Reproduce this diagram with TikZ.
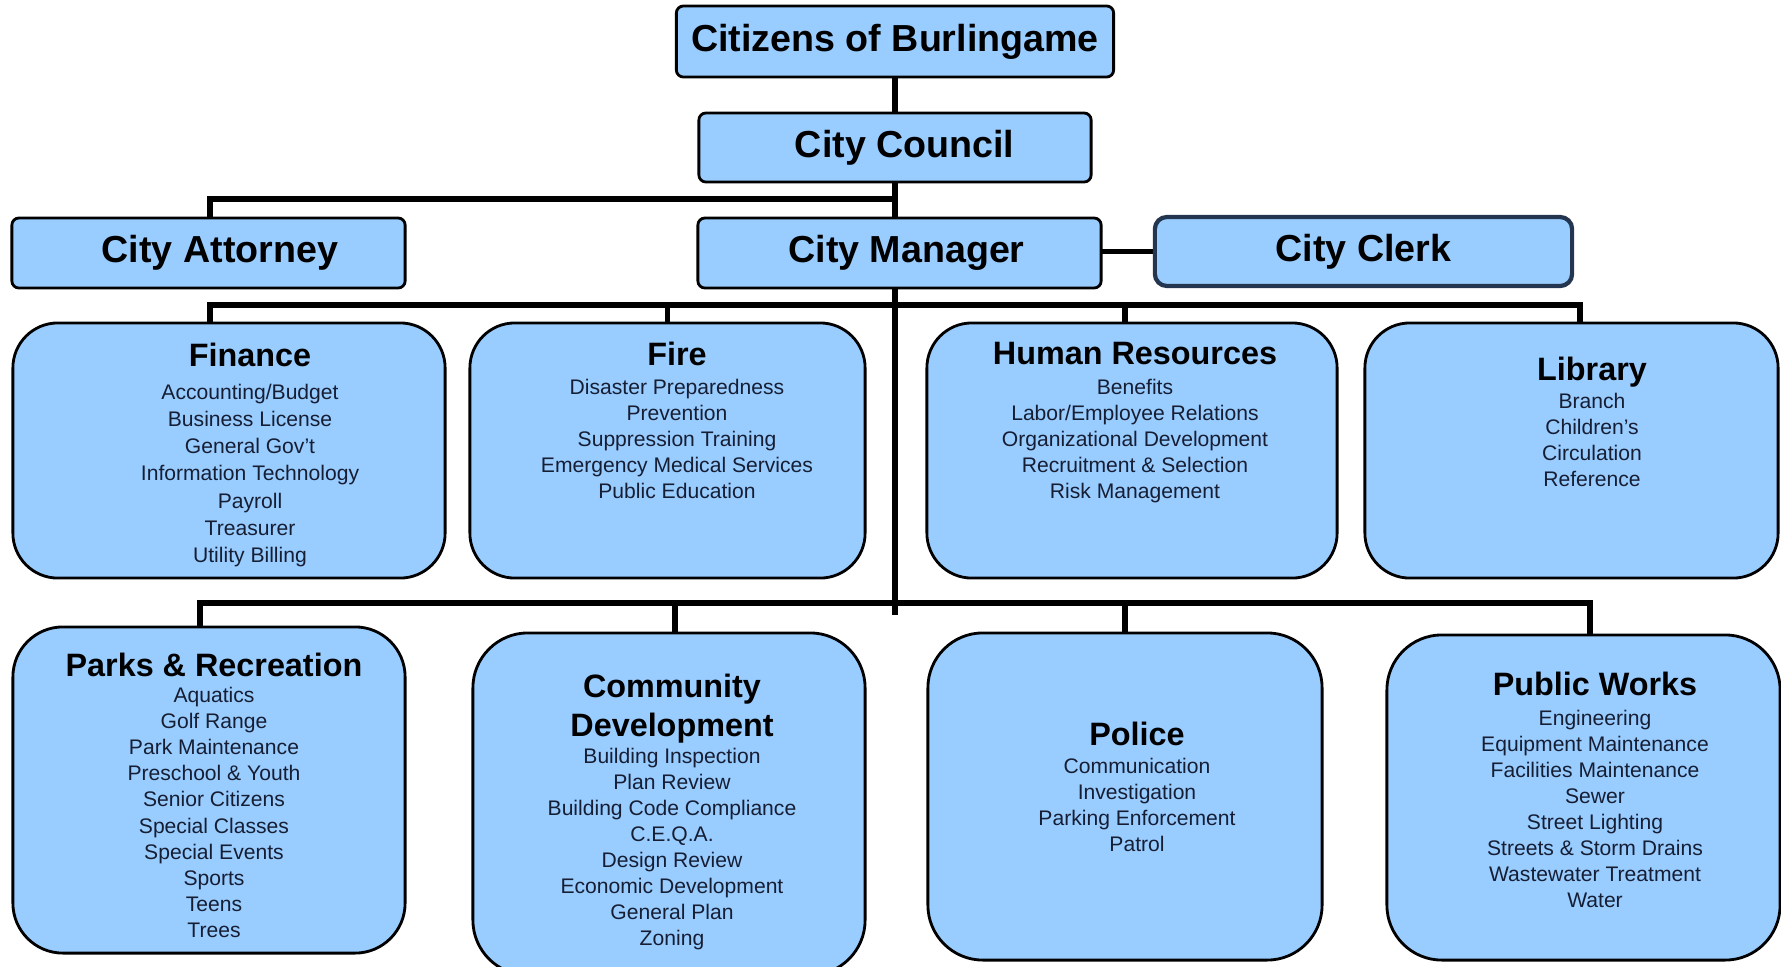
\documentclass[tikz,border=0pt]{standalone}
\usepackage{fontspec}
\setmainfont{Liberation Sans}
\usepackage{tikz}
\usetikzlibrary{positioning,backgrounds}

\definecolor{boxblue}{RGB}{153,204,255}
\definecolor{clerkline}{RGB}{36,54,79}
\definecolor{itemtext}{RGB}{22,30,52}

\newcommand{\depthead}[1]{{\color{black}\fontsize{9.2}{11}\selectfont\bfseries #1}}

\tikzset{
  topbox/.style={draw=black, line width=0.8pt, fill=boxblue, rounded corners=0.07cm,
    inner sep=0pt, font=\fontsize{10.7}{12.8}\selectfont\bfseries},
  deptbox/.style={draw=black, line width=0.8pt, fill=boxblue, rounded corners=0.45cm,
    inner sep=0pt},
  depttext/.style={anchor=north, align=center, inner sep=0pt, text=itemtext,
    font=\fontsize{6}{7.4}\selectfont},
  link/.style={line width=1.7pt, line cap=rect}
}

\begin{document}
\begin{tikzpicture}[x=0.01cm, y=-0.01cm]

    \useasboundingbox (0,0) rectangle (1781,966);

    \coordinate (trunkend) at (895,612);
    \coordinate (attyturn) at (210,199);
    \coordinate (upL) at (210,305);
    \coordinate (upR) at (1580,305);
    \coordinate (loL) at (200,603);
    \coordinate (loR) at (1590,603);

    % top row
    \node[topbox, minimum width=4.37cm, minimum height=0.71cm] (citizens) at (895,41.5) {Citizens of Burlingame};
    \node[topbox, minimum width=3.92cm, minimum height=0.69cm] (council) at (895,147.5) {\hspace*{5.5pt}City Council};
    \node[topbox, minimum width=3.93cm, minimum height=0.70cm] (attorney) at (208.5,253) {\hspace*{6.5pt}City Attorney};
    \node[topbox, minimum width=4.03cm, minimum height=0.70cm] (manager) at (899.5,253) {\hspace*{4pt}City Manager};
    \node[topbox, draw=clerkline, line width=1.2pt, rounded corners=0.12cm,
          minimum width=4.17cm, minimum height=0.69cm] (clerk) at (1363.5,251.5) {City Clerk};

    % departments, upper row
    \node[deptbox, minimum width=4.32cm, minimum height=2.55cm] (finance) at (229,450.5) {};
    \node[deptbox, minimum width=3.95cm, minimum height=2.55cm] (fire) at (667.5,450.5) {};
    \node[deptbox, minimum width=4.10cm, minimum height=2.55cm] (hr) at (1132,450.5) {};
    \node[deptbox, minimum width=4.13cm, minimum height=2.55cm] (library) at (1571.5,450.5) {};

    % departments, lower row
    \node[deptbox, rounded corners=0.5cm, minimum width=3.92cm, minimum height=3.26cm] (parks) at (209,790) {};
    \node[deptbox, rounded corners=0.55cm, minimum width=3.92cm, minimum height=3.42cm] (comdev) at (669,804) {};
    \node[deptbox, rounded corners=0.55cm, minimum width=3.94cm, minimum height=3.27cm] (police) at (1125,796.5) {};
    \node[deptbox, rounded corners=0.55cm, minimum width=3.93cm, minimum height=3.25cm] (pubworks) at (1583.5,797.5) {};

    % lines, behind the boxes
    \begin{scope}[on background layer]
    \draw[link] (citizens) -- (council);
    \draw[link] (council.south) -- (council.south |- manager.north);
    \draw[link] (council.south |- attyturn) -- (attyturn) -- (attorney.north -| attyturn);
    \draw[link] (manager.east |- clerk.west) -- (clerk.west);
    \draw[link] (manager.south -| trunkend) -- (trunkend);

    \draw[link] (upL) -- (upR);
    \draw[link] (upL) -- (upL |- finance.north);
    \draw[link] (fire.north |- upL) -- (fire.north);
    \draw[link] (1125,305) -- (hr.north -| 1125,0);
    \draw[link] (upR) -- (upR |- library.north);

    \draw[link] (loL) -- (loR);
    \draw[link] (loL) -- (loL |- parks.north);
    \draw[link] (675,603) -- (comdev.north -| 675,0);
    \draw[link] (police.north |- loL) -- (police.north);
    \draw[link] (loR) -- (loR |- pubworks.north);
    \end{scope}

    % texts
    \node[depttext, font=\fontsize{6}{7.75}\selectfont] (finance-t) at (250,342) {\depthead{Finance}\\[1.6pt]
      Accounting/Budget\\ Business License\\ General Gov't\\ Information Technology\\
      Payroll\\ Treasurer\\ Utility Billing};
    \node[depttext] (fire-t) at (677,341.5) {\depthead{Fire}\\[0.9pt]
      Disaster Preparedness\\ Prevention\\ Suppression Training\\
      Emergency Medical Services\\ Public Education};
    \node[depttext] (hr-t) at (1135,342) {\depthead{Human Resources}\\[0.9pt]
      Benefits\\ Labor/Employee Relations\\ Organizational Development\\
      Recruitment \& Selection\\ Risk Management};
    \node[depttext] (library-t) at (1592,356.5) {\depthead{Library}\\[0.5pt]
      Branch\\ Children's\\ Circulation\\ Reference};

    \node[depttext] (parks-t) at (214,652) {\depthead{Parks \& Recreation}\\[0.2pt]
      Aquatics\\ Golf Range\\ Park Maintenance\\ Preschool \& Youth\\ Senior Citizens\\
      Special Classes\\ Special Events\\ Sports\\ Teens\\ Trees};
    \node[depttext] (comdev-t) at (672,673) {\depthead{Community}\\[1.5pt] \depthead{Development}\\[0.4pt]
      Building Inspection\\ Plan Review\\ Building Code Compliance\\ C.E.Q.A.\\
      Design Review\\ Economic Development\\ General Plan\\ Zoning};
    \node[depttext] (police-t) at (1137,721.5) {\depthead{Police}\\[0.6pt]
      Communication\\ Investigation\\ Parking Enforcement\\ Patrol};
    \node[depttext] (pubworks-t) at (1595,671.5) {\depthead{Public Works}\\[1pt]
      Engineering\\ Equipment Maintenance\\ Facilities Maintenance\\ Sewer\\
      Street Lighting\\ Streets \& Storm Drains\\ Wastewater Treatment\\ Water};

\end{tikzpicture}
\end{document}
